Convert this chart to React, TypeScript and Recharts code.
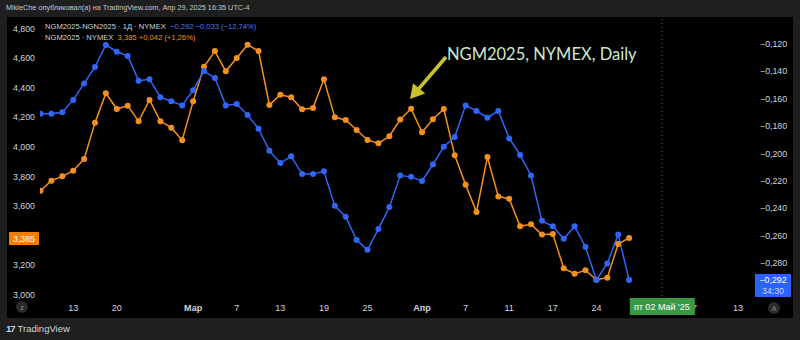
import React from "react";
import { LineChart, Line, XAxis, YAxis, ReferenceLine } from "recharts";

// trading days shown on the time scale (the last ones are future, empty slots)
const tradingDays = [
    "2025-02-10", "2025-02-11", "2025-02-12", "2025-02-13", "2025-02-14",
    "2025-02-18", "2025-02-19", "2025-02-20", "2025-02-21",
    "2025-02-24", "2025-02-25", "2025-02-26", "2025-02-27", "2025-02-28",
    "2025-03-03", "2025-03-04", "2025-03-05", "2025-03-06", "2025-03-07",
    "2025-03-10", "2025-03-11", "2025-03-12", "2025-03-13", "2025-03-14",
    "2025-03-17", "2025-03-18", "2025-03-19", "2025-03-20", "2025-03-21",
    "2025-03-24", "2025-03-25", "2025-03-26", "2025-03-27", "2025-03-28",
    "2025-03-31", "2025-04-01", "2025-04-02", "2025-04-03", "2025-04-04",
    "2025-04-07", "2025-04-08", "2025-04-09", "2025-04-10", "2025-04-11",
    "2025-04-14", "2025-04-15", "2025-04-16", "2025-04-17",
    "2025-04-21", "2025-04-22", "2025-04-23", "2025-04-24", "2025-04-25",
    "2025-04-28", "2025-04-29",
    "2025-04-30", "2025-05-01", "2025-05-02", "2025-05-05", "2025-05-06",
    "2025-05-07", "2025-05-08", "2025-05-09", "2025-05-12", "2025-05-13", "2025-05-14"
];

// NGM2025 close (left scale)
const ngmPrices = [
    3705, 3773, 3802, 3840, 3919, 4165, 4364, 4257, 4280, 4174,
    4318, 4174, 4131, 4046, 4309, 4543, 4649, 4512, 4602, 4692,
    4649, 4284, 4354, 4336, 4255, 4264, 4458, 4201, 4183, 4115,
    4048, 4025, 4073, 4186, 4259, 4100, 4188, 4257, 3944, 3746,
    3561, 3933, 3665, 3651, 3464, 3478, 3408, 3412, 3180, 3144,
    3167, 3103, 3117, 3345, 3385
];

// NGM2025-NGN2025 spread (right scale)
const spreadValues = [
    -0.171, -0.171, -0.170, -0.161, -0.149, -0.137, -0.121, -0.126, -0.129, -0.147,
    -0.146, -0.159, -0.162, -0.165, -0.154, -0.140, -0.145, -0.165, -0.164, -0.172,
    -0.182, -0.198, -0.207, -0.202, -0.215, -0.215, -0.213, -0.238, -0.246, -0.263,
    -0.270, -0.255, -0.239, -0.216, -0.217, -0.220, -0.208, -0.195, -0.188, -0.165,
    -0.169, -0.174, -0.169, -0.189, -0.201, -0.216, -0.249, -0.253, -0.262, -0.253,
    -0.268, -0.292, -0.280, -0.259, -0.292
];

// "Май" (May 1) is hidden under the crosshair date label, so it is left out
const xTickDays = [
    "2025-02-13", "2025-02-20", "2025-03-03", "2025-03-07", "2025-03-13", "2025-03-19",
    "2025-03-25", "2025-04-01", "2025-04-07", "2025-04-11", "2025-04-17", "2025-04-24",
    "2025-05-07", "2025-05-13"
];
const xTickLabels = ["13", "20", "Мар", "7", "13", "19", "25", "Апр", "7", "11", "17", "24", "7", "13"];
const crosshairDay = "2025-05-02";
const crosshairLabel = "пт 02 Май '25";

// 3,400 sits under the last-price tag
const leftTicks = [3000, 3200, 3600, 3800, 4000, 4200, 4400, 4600, 4800];
const rightTicks = [-0.28, -0.26, -0.24, -0.22, -0.2, -0.18, -0.16, -0.14, -0.12];

const lastPrice = 3385;
const lastSpread = -0.292;
const spreadCountdown = "34:30";

const ORANGE = "#f5901e";
const BLUE = "#2f66f5";
const TEXT = "#d1d4dc";
const FONT = "'Liberation Sans', Arial, sans-serif";

const data = tradingDays.map((d, i) => ({
    idx: i,
    date: d,
    ngm: i < ngmPrices.length ? ngmPrices[i] : null,
    spread: i < spreadValues.length ? spreadValues[i] : null
}));

const fmtLeft = (v: number) => v.toLocaleString("en-US");
const fmtRight = (v: number) => v.toFixed(3).replace(".", ",").replace("-", "\u2212");

function XTick(props: any) {
    const { x, y, payload } = props;
    const day = tradingDays[payload.value];
    if (day === crosshairDay) {
        return (
            <g>
                <rect x={x - 32} y={y - 2} width={65} height={17} fill="#3b9944" />
                <text x={x} y={y + 10} textAnchor="middle" fill="#fff" fontSize={9} fontFamily={FONT}>
                    {crosshairLabel}
                </text>
            </g>
        );
    }
    const label = xTickLabels[xTickDays.indexOf(day)];
    const isMonth = isNaN(Number(label));
    return (
        <text x={x} y={y + 11} textAnchor="middle" fill={TEXT} fontSize={9}
            fontWeight={isMonth ? 700 : 400} fontFamily={FONT}>
            {label}
        </text>
    );
}

function LeftTick(props: any) {
    const { x, y, payload } = props;
    return (
        <text x={x} y={y + 3} textAnchor="end" fill={TEXT} fontSize={8.8} fontFamily={FONT}>
            {fmtLeft(payload.value)}
        </text>
    );
}

function RightTick(props: any) {
    const { x, y, payload } = props;
    return (
        <text x={x} y={y + 3} textAnchor="start" fill={TEXT} fontSize={8.8} fontFamily={FONT}>
            {fmtRight(payload.value)}
        </text>
    );
}

function PriceTag(props: any) {
    const { viewBox } = props;
    if (!viewBox) return null;
    return (
        <g>
            <rect x={viewBox.x - 31} y={viewBox.y - 6} width={30} height={13} fill="#f57c00" />
            <text x={viewBox.x - 16} y={viewBox.y + 3.5} textAnchor="middle" fill="#fff" fontSize={8.8} fontFamily={FONT}>
                {fmtLeft(lastPrice)}
            </text>
        </g>
    );
}

function SpreadTag(props: any) {
    const { viewBox } = props;
    if (!viewBox) return null;
    const left = viewBox.x + viewBox.width + 5;
    return (
        <g>
            <rect x={left} y={viewBox.y - 6} width={36} height={23} fill="#2962ff" />
            <text x={left + 18} y={viewBox.y + 3} textAnchor="middle" fill="#fff" fontSize={8.8} fontFamily={FONT}>
                {fmtRight(lastSpread)}
            </text>
            <text x={left + 18} y={viewBox.y + 14} textAnchor="middle" fill="#c9d6ff" fontSize={8.8} fontFamily={FONT}>
                {spreadCountdown}
            </text>
        </g>
    );
}

export default function App() {
    return (
        <div style={{ position: "relative", width: 800, height: 340, background: "#1f1f1f", overflow: "hidden", fontFamily: FONT }}>
            <style>{"body{margin:0}"}</style>

            {/* publish header */}
            <div style={{ position: "absolute", left: 6, top: 3, fontSize: 7.3, color: "#c8c8c8", whiteSpace: "nowrap" }}>
                MikleChe опубликовал(а) на TradingView.com, Апр 29, 2025 16:35 UTC-4
            </div>

            {/* chart pane */}
            <div style={{ position: "absolute", left: 7, top: 17, width: 786, height: 301, background: "#000" }} />

            <div style={{ position: "absolute", left: 0, top: 0 }}>
                <LineChart width={800} height={340} data={data} margin={{ top: 18, right: 0, left: 0, bottom: 23 }}>
                    <XAxis
                        dataKey="idx"
                        type="number"
                        domain={[-0.046, 65.09]}
                        allowDataOverflow
                        ticks={[...xTickDays.map((d) => tradingDays.indexOf(d)), tradingDays.indexOf(crosshairDay)]}
                        interval={0}
                        tick={<XTick />}
                        tickSize={0}
                        tickMargin={0}
                        axisLine={false}
                        height={17}
                    />
                    <YAxis
                        yAxisId="left"
                        orientation="left"
                        domain={[2966, 4872.5]}
                        allowDataOverflow
                        ticks={leftTicks}
                        interval={0}
                        tick={<LeftTick />}
                        tickSize={0}
                        tickMargin={5}
                        axisLine={false}
                        width={40}
                    />
                    <YAxis
                        yAxisId="right"
                        orientation="right"
                        domain={[-0.30655, -0.10145]}
                        allowDataOverflow
                        ticks={rightTicks}
                        interval={0}
                        tick={<RightTick />}
                        tickSize={0}
                        tickMargin={10}
                        axisLine={false}
                        width={50}
                    />
                    <ReferenceLine yAxisId="left" x={tradingDays.indexOf(crosshairDay)} stroke="#6a6a6a" strokeDasharray="1 3" />
                    <Line
                        yAxisId="left"
                        dataKey="ngm"
                        stroke={ORANGE}
                        strokeWidth={1.5}
                        dot={{ r: 3, fill: ORANGE, stroke: ORANGE, strokeWidth: 0 }}
                        isAnimationActive={false}
                    />
                    <Line
                        yAxisId="right"
                        dataKey="spread"
                        stroke={BLUE}
                        strokeWidth={1.5}
                        dot={{ r: 3, fill: BLUE, stroke: BLUE, strokeWidth: 0 }}
                        isAnimationActive={false}
                    />
                    <ReferenceLine yAxisId="left" y={lastPrice} stroke="none" label={(p: any) => <PriceTag {...p} />} />
                    <ReferenceLine yAxisId="right" y={lastSpread} stroke="none" label={(p: any) => <SpreadTag {...p} />} />
                </LineChart>
            </div>

            {/* legend */}
            <div style={{ position: "absolute", left: 45, top: 21, fontSize: 7.6, color: TEXT, whiteSpace: "nowrap", lineHeight: "11px" }}>
                <div>
                    NGM2025-NGN2025 · 1Д · NYMEX&nbsp;&nbsp;
                    <span style={{ color: "#4b7bff" }}>{"\u22120,292 \u22120,033 (\u221212,74%)"}</span>
                </div>
                <div>
                    NGM2025 · NYMEX&nbsp;&nbsp;
                    <span style={{ color: ORANGE }}>3,385 +0,042 (+1,26%)</span>
                </div>
            </div>

            {/* annotation */}
            <div style={{ position: "absolute", left: 447, top: 44, fontFamily: "Lato, sans-serif", fontSize: 16.5, color: "#cde8cf", whiteSpace: "nowrap" }}>
                NGM2025, NYMEX, Daily
            </div>
            <svg width={800} height={340} style={{ position: "absolute", left: 0, top: 0, pointerEvents: "none" }}>
                <polygon
                    points="444.6,55.8 447.4,58.2 420.5,89.6 425.2,93.6 410,99 413,83.2 417.7,87.2"
                    fill="#c8c02c"
                />
                <circle cx={22} cy={307} r={6} fill="#2a2a2a" />
                <text x={22} y={310} textAnchor="middle" fontSize={7} fill="#8a8a8a" fontFamily={FONT}>z</text>
                <circle cx={774} cy={308} r={6} fill="#2a2a2a" />
                <text x={774} y={311} textAnchor="middle" fontSize={7} fill="#8a8a8a" fontFamily={FONT}>A</text>
            </svg>

            {/* footer */}
            <div style={{ position: "absolute", left: 6, top: 323, fontSize: 9.5, color: TEXT, whiteSpace: "nowrap" }}>
                <span style={{ fontWeight: 900, letterSpacing: -1, marginRight: 3 }}>17</span>TradingView
            </div>
        </div>
    );
}
